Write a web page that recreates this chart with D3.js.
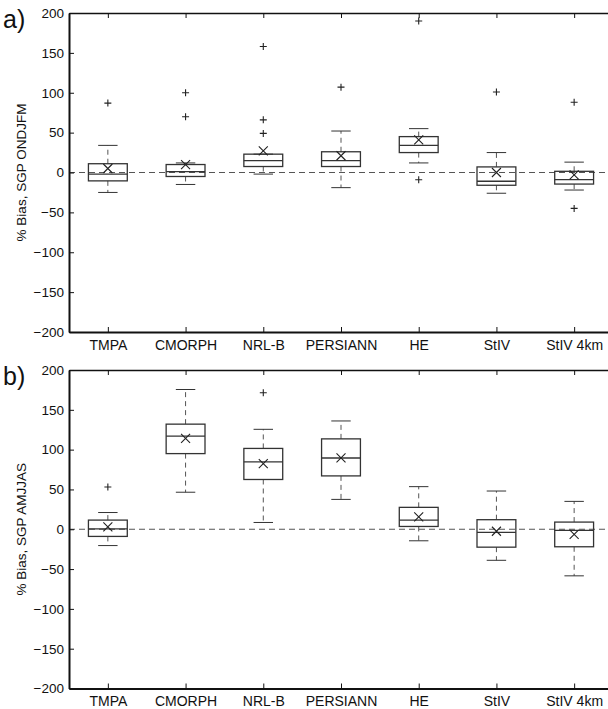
<!DOCTYPE html>
<html>
<head>
<meta charset="utf-8">
<script src="https://d3js.org/d3.v7.min.js"></script>
<style>
  body { margin: 0; background: #fff; }
  svg { display: block; font-family: "Liberation Sans", Arial, sans-serif; }
  .axis text { font-size: 13.5px; fill: #111; }
  .axis.cat text { font-size: 14px; }
  .axis path, .axis line { stroke: #111; }
</style>
</head>
<body>
<div id="chart"></div>
<script>
var categories = ["TMPA", "CMORPH", "NRL-B", "PERSIANN", "HE", "StIV", "StIV 4km"];
var yTicks = [-200, -150, -100, -50, 0, 50, 100, 150, 200];

// panel a) SGP ONDJFM
var lowA    = [-25, -15, -2, -19, 12, -26, -22];
var q1A     = [-10.5, -5, 7.5, 7.5, 25, -16, -14.5];
var medA    = [-2, 1, 15, 15, 34, -11, -9];
var q3A     = [11, 10, 23, 26, 45, 7, 1.5];
var highA   = [34, 12, 23, 52, 55, 25, 13];
var meanA   = [5, 10, 27, 21, 41, 0, -3];
var outA    = [[87], [100, 70], [158, 66, 49], [107], [190, -9], [101], [88, -45]];

// panel b) SGP AMJJAS
var lowB    = [-20.5, 46.5, 8.5, 37.5, -14.5, -39, -58.5];
var q1B     = [-9, 95, 62.5, 67, 3.5, -22.5, -22];
var medB    = [0.5, 117, 84.5, 89.5, 11.5, -4, -1.5];
var q3B     = [11.5, 132, 101.5, 113.5, 27.5, 12, 9];
var highB   = [21, 175.5, 125.5, 136, 53.5, 48, 35];
var meanB   = [3, 114, 82.5, 89.5, 15.5, -2.5, -6.5];
var outB    = [[53], [], [171.5], [], [], [], []];

var width = 608, height = 709;
var left = 69, right = 613;

var svg = d3.select("#chart").append("svg")
  .attr("width", width)
  .attr("height", height);

var x = d3.scaleLinear().domain([0.5, 7.5]).range([left, right]);

function rows(low, q1, med, q3, high, mean, out) {
  return categories.map(function(c, i) {
    return {i: i + 1, low: low[i], q1: q1[i], med: med[i], q3: q3[i], high: high[i], mean: mean[i], out: out[i]};
  });
}

function panel(top, bottom, tag, ylabel, data) {
  var y = d3.scaleLinear().domain([-200, 200]).range([bottom, top]);
  var g = svg.append("g");

  // zero reference line
  g.append("line")
    .attr("x1", x(0.5)).attr("x2", x(7.5))
    .attr("y1", y(0)).attr("y2", y(0))
    .attr("stroke", "#555").attr("stroke-width", 1.2)
    .attr("stroke-dasharray", "6,4");

  var b = g.selectAll(".box").data(data).enter().append("g").attr("class", "box");
  var hw = (x(1.25) - x(1)), cw = (x(1.125) - x(1));

  // whiskers (dashed)
  b.append("line")
    .attr("x1", d => x(d.i)).attr("x2", d => x(d.i))
    .attr("y1", d => y(d.q3)).attr("y2", d => y(d.high))
    .attr("stroke", "#555").attr("stroke-dasharray", "5,4");
  b.append("line")
    .attr("x1", d => x(d.i)).attr("x2", d => x(d.i))
    .attr("y1", d => y(d.q1)).attr("y2", d => y(d.low))
    .attr("stroke", "#555").attr("stroke-dasharray", "5,4");

  // caps
  b.append("line")
    .attr("x1", d => x(d.i) - cw).attr("x2", d => x(d.i) + cw)
    .attr("y1", d => y(d.high)).attr("y2", d => y(d.high))
    .attr("stroke", "#333");
  b.append("line")
    .attr("x1", d => x(d.i) - cw).attr("x2", d => x(d.i) + cw)
    .attr("y1", d => y(d.low)).attr("y2", d => y(d.low))
    .attr("stroke", "#333");

  // box + median
  b.append("rect")
    .attr("x", d => x(d.i) - hw)
    .attr("width", 2 * hw)
    .attr("y", d => y(d.q3))
    .attr("height", d => y(d.q1) - y(d.q3))
    .attr("fill", "none").attr("stroke", "#333").attr("stroke-width", 1.3);
  b.append("line")
    .attr("x1", d => x(d.i) - hw).attr("x2", d => x(d.i) + hw)
    .attr("y1", d => y(d.med)).attr("y2", d => y(d.med))
    .attr("stroke", "#333").attr("stroke-width", 1.3);

  // mean marker (x)
  b.append("path")
    .attr("d", function(d) {
      var cx = x(d.i), cy = y(d.mean), s = 4.5;
      return "M" + (cx - s) + "," + (cy - s) + "L" + (cx + s) + "," + (cy + s) +
             "M" + (cx - s) + "," + (cy + s) + "L" + (cx + s) + "," + (cy - s);
    })
    .attr("stroke", "#222").attr("stroke-width", 1.1);

  // outliers (+)
  b.selectAll(".out").data(d => d.out.map(v => ({i: d.i, v: v}))).enter()
    .append("path")
    .attr("class", "out")
    .attr("d", function(o) {
      var cx = x(o.i), cy = y(o.v), s = 3.5;
      return "M" + (cx - s) + "," + cy + "L" + (cx + s) + "," + cy +
             "M" + cx + "," + (cy - s) + "L" + cx + "," + (cy + s);
    })
    .attr("stroke", "#222").attr("stroke-width", 1.1);

  // axes, matlab style inward ticks
  g.append("g").attr("class", "axis")
    .attr("transform", "translate(" + left + ",0)")
    .call(d3.axisLeft(y).tickValues(yTicks).tickSizeInner(-5).tickSizeOuter(0).tickPadding(5))
    .select(".domain").attr("stroke-width", 2);
  g.append("g").attr("class", "axis")
    .attr("transform", "translate(" + right + ",0)")
    .call(d3.axisRight(y).tickValues(yTicks).tickSizeInner(-5).tickSizeOuter(0).tickFormat(""))
    .select(".domain").attr("stroke-width", 1.5);
  g.append("g").attr("class", "axis cat")
    .attr("transform", "translate(0," + bottom + ")")
    .call(d3.axisBottom(x).tickValues(d3.range(1, 8)).tickFormat(i => categories[i - 1])
      .tickSizeInner(-5).tickSizeOuter(0).tickPadding(8))
    .select(".domain").attr("stroke-width", 2);
  g.append("g").attr("class", "axis")
    .attr("transform", "translate(0," + top + ")")
    .call(d3.axisTop(x).tickValues(d3.range(1, 8)).tickFormat("")
      .tickSizeInner(-5).tickSizeOuter(0))
    .select(".domain").attr("stroke-width", 1.5);

  g.selectAll(".axis .tick line").attr("stroke", "#333");

  // y label
  g.append("text")
    .attr("transform", "translate(26," + y(0) + ") rotate(-90)")
    .attr("text-anchor", "middle")
    .style("font-size", "13.5px")
    .attr("fill", "#111")
    .text(ylabel);

  // panel tag
  g.append("text")
    .attr("x", 3).attr("y", top + 15)
    .style("font-size", "25px")
    .attr("fill", "#111")
    .text(tag);
}

panel(13, 332, "a)", "% Bias, SGP ONDJFM", rows(lowA, q1A, medA, q3A, highA, meanA, outA));
panel(370, 688.5, "b)", "% Bias, SGP AMJJAS", rows(lowB, q1B, medB, q3B, highB, meanB, outB));
</script>
</body>
</html>
